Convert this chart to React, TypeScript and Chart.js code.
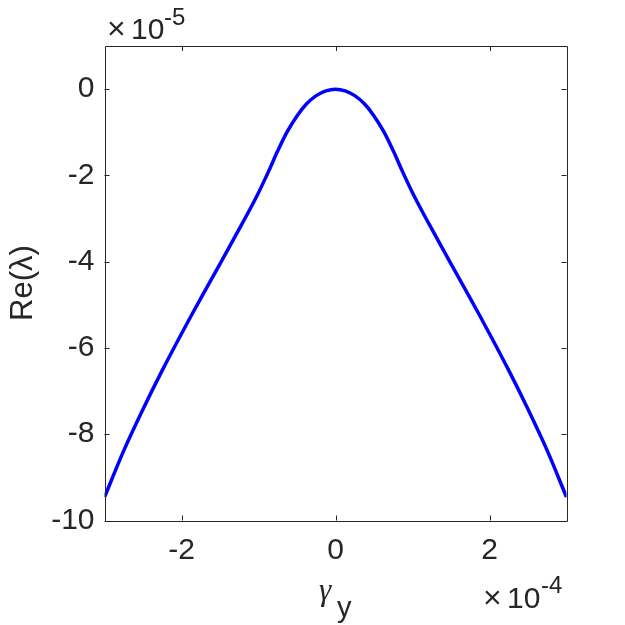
import React, { useEffect, useRef } from "react";
import { Chart, registerables } from "chart.js";

Chart.register(...registerables);

// gamma_y in units of 1e-4
const gammaValues = [
  -3, -2.75, -2.5, -2.25, -2, -1.75, -1.5, -1.25, -1.125, -1, -0.875, -0.75, -0.625, -0.5, -0.375, -0.25, -0.125, 0,
  0.125, 0.25, 0.375, 0.5, 0.625, 0.75, 0.875, 1, 1.125, 1.25, 1.5, 1.75, 2, 2.25, 2.5, 2.75, 3,
];
// Re(lambda) in units of 1e-5
const reValues = [
  -9.46, -8.38, -7.42, -6.52, -5.67, -4.85, -4.05, -3.24, -2.83, -2.4, -1.93, -1.43, -0.98, -0.62, -0.34, -0.15, -0.04, 0,
  -0.04, -0.15, -0.34, -0.62, -0.98, -1.43, -1.93, -2.4, -2.83, -3.24, -4.05, -4.85, -5.67, -6.52, -7.42, -8.38, -9.46,
];
const xTickValues = [-2, 0, 2];
const yTickValues = [-10, -8, -6, -4, -2, 0];
const xRange = [-3, 3];
const yRange = [-10, 1];

const AXIS_COLOR = "#262626";
const SANS = "'Liberation Sans', Arial, Helvetica, sans-serif";

const decorPlugin = {
  id: "matlabDecor",
  afterDraw(chart: any) {
    const { ctx, chartArea } = chart;
    const { left, right, top, bottom } = chartArea;
    const xs = chart.scales.x;
    const ys = chart.scales.y;
    ctx.save();
    ctx.strokeStyle = AXIS_COLOR;
    ctx.lineWidth = 1;
    ctx.beginPath();
    ctx.rect(Math.round(left) + 0.5, Math.round(top) + 0.5, Math.round(right - left), Math.round(bottom - top));
    ctx.stroke();
    const tl = 5;
    ctx.beginPath();
    xTickValues.forEach((v) => {
      const px = Math.round(xs.getPixelForValue(v)) + 0.5;
      ctx.moveTo(px, bottom);
      ctx.lineTo(px, bottom - tl);
      ctx.moveTo(px, top);
      ctx.lineTo(px, top + tl);
    });
    yTickValues.forEach((v) => {
      const py = Math.round(ys.getPixelForValue(v)) + 0.5;
      ctx.moveTo(left, py);
      ctx.lineTo(left + tl, py);
      ctx.moveTo(right, py);
      ctx.lineTo(right - tl, py);
    });
    ctx.stroke();

    ctx.fillStyle = AXIS_COLOR;
    ctx.textAlign = "left";
    ctx.textBaseline = "alphabetic";
    // x10^-5 exponent label
    ctx.font = `32px ${SANS}`;
    ctx.fillText("\u00d7", 107, 39);
    ctx.font = `30px ${SANS}`;
    ctx.fillText("10", 131, 39);
    ctx.font = `24px ${SANS}`;
    ctx.fillText("-5", 164, 25);
    // x10^-4 exponent label
    ctx.font = `32px ${SANS}`;
    ctx.fillText("\u00d7", 483, 608);
    ctx.font = `30px ${SANS}`;
    ctx.fillText("10", 507, 608);
    ctx.font = `24px ${SANS}`;
    ctx.fillText("-4", 541, 593);

    // x axis label gamma_y
    ctx.font = `italic 31px 'Liberation Serif', 'DejaVu Serif', serif`;
    ctx.fillText("\u03b3", 319, 600);
    ctx.font = `29px ${SANS}`;
    ctx.fillText("y", 337, 617);

    // y axis label
    ctx.translate(32, 283);
    ctx.rotate(-Math.PI / 2);
    ctx.textAlign = "center";
    ctx.font = `31px ${SANS}`;
    ctx.fillText("Re(\u03bb)", 0, 0);
    ctx.restore();
  },
};

export default function App() {
  const canvasRef = useRef<HTMLCanvasElement | null>(null);

  useEffect(() => {
    const canvas = canvasRef.current;
    if (!canvas) return;
    const points = gammaValues.map((g, i) => ({ x: g, y: reValues[i] }));
    const chart = new Chart(canvas, {
      type: "line",
      data: {
        datasets: [
          {
            data: points,
            borderColor: "#0000ff",
            borderWidth: 3.5,
            pointRadius: 0,
            fill: false,
            tension: 0.35,
          },
        ],
      },
      options: {
        animation: false,
        responsive: false,
        maintainAspectRatio: false,
        events: [],
        layout: { padding: { top: 46, right: 58.5, left: 0, bottom: 0 } },
        plugins: { legend: { display: false }, tooltip: { enabled: false }, title: { display: false } },
        scales: {
          x: {
            type: "linear",
            min: xRange[0],
            max: xRange[1],
            grid: { display: false, drawTicks: false },
            border: { display: false },
            afterBuildTicks: (s: any) => {
              s.ticks = xTickValues.map((v) => ({ value: v }));
            },
            afterFit: (s: any) => {
              s.height = 104.5;
            },
            ticks: {
              color: AXIS_COLOR,
              padding: 12,
              maxRotation: 0,
              font: { family: SANS, size: 30 },
              callback: (v: any) => String(v),
            },
          },
          y: {
            type: "linear",
            min: yRange[0],
            max: yRange[1],
            grid: { display: false, drawTicks: false },
            border: { display: false },
            afterBuildTicks: (s: any) => {
              s.ticks = yTickValues.map((v) => ({ value: v }));
            },
            afterFit: (s: any) => {
              s.width = 104.5;
            },
            ticks: {
              color: AXIS_COLOR,
              padding: 10,
              font: { family: SANS, size: 30 },
              callback: (v: any) => String(v),
            },
          },
        },
      },
      plugins: [decorPlugin],
    });
    return () => chart.destroy();
  }, []);

  return (
    <div style={{ position: "fixed", left: 0, top: 0, width: 625, height: 625, background: "#fff" }}>
      <canvas ref={canvasRef} width={625} height={625} style={{ width: 625, height: 625 }} />
    </div>
  );
}
